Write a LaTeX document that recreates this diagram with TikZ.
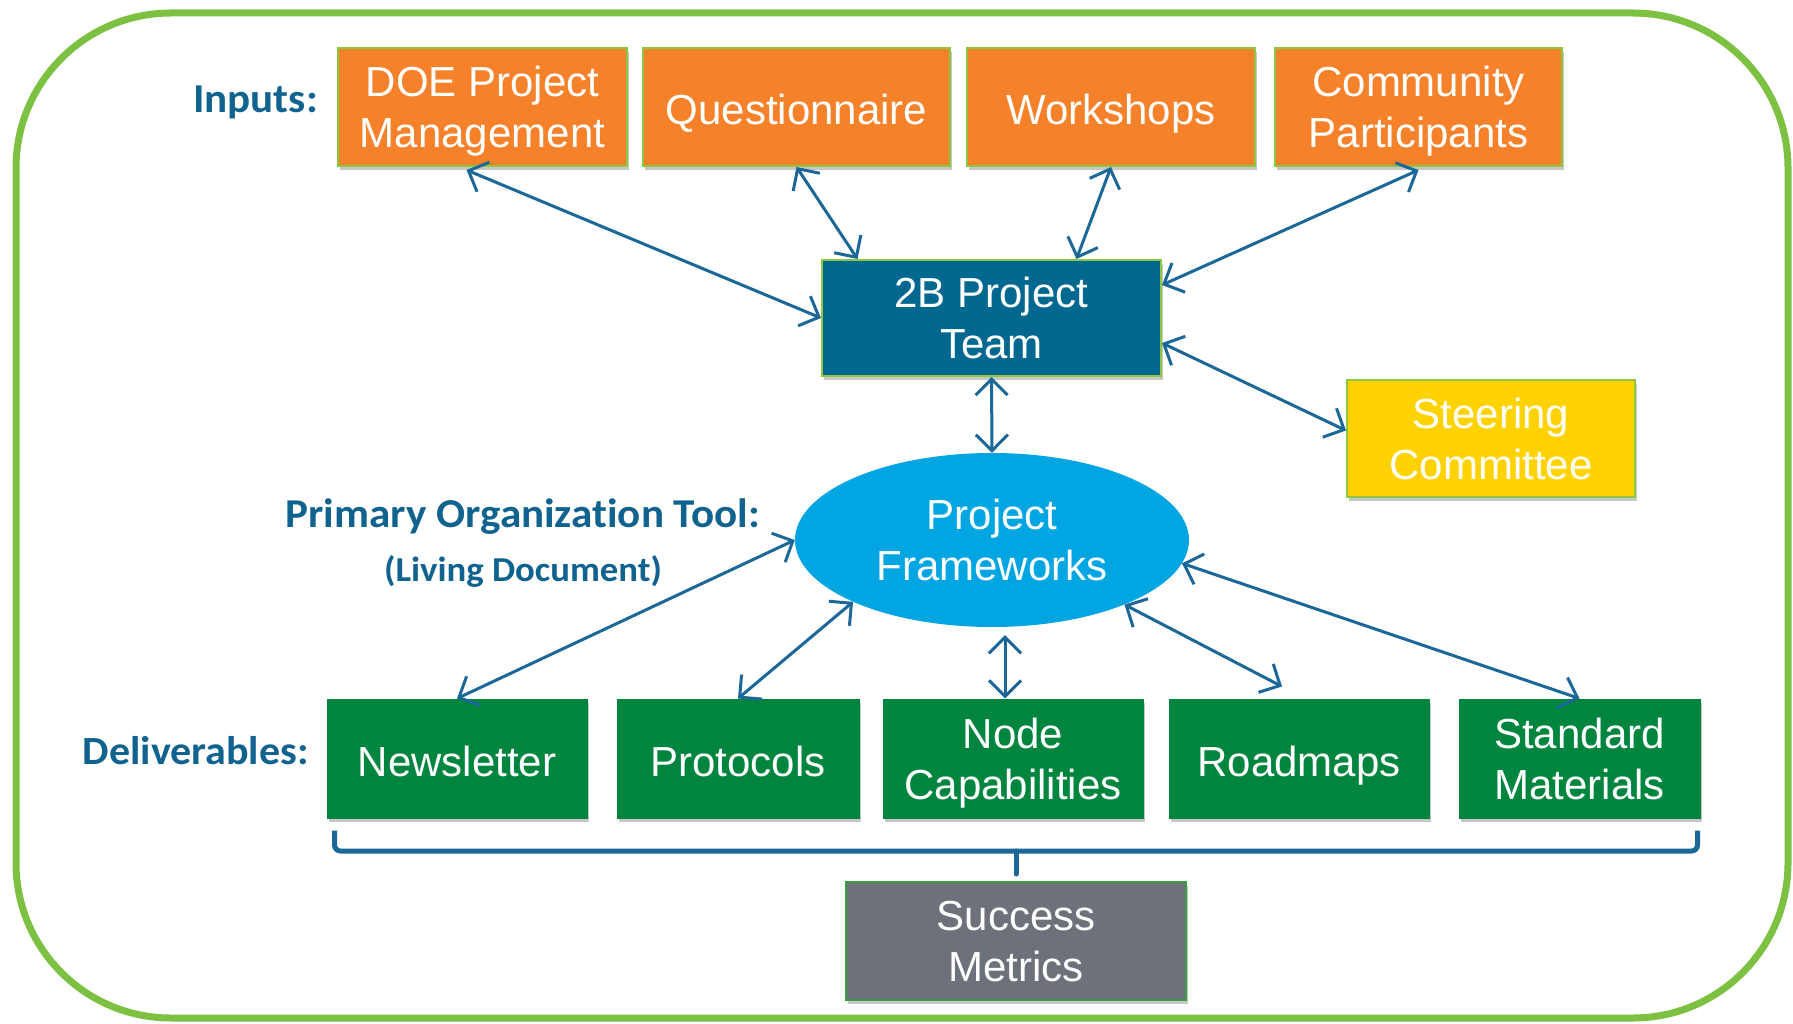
\documentclass[tikz,border=0pt]{standalone}
\usepackage{fontspec}
\setmainfont{Liberation Sans}
\newfontfamily\labfont{Carlito}[Ligatures=NoCommon, FakeStretch=1.05]
\usetikzlibrary{arrows.meta,shapes.geometric,shadows,calc}
\definecolor{outerg}{HTML}{7DC142}
\definecolor{edgeg}{HTML}{8DC63F}
\definecolor{orangec}{HTML}{F5822A}
\definecolor{teamc}{HTML}{02688F}
\definecolor{yellowc}{HTML}{FFD200}
\definecolor{ellc}{HTML}{00A5E2}
\definecolor{greenc}{HTML}{00853F}
\definecolor{grayc}{HTML}{6C717A}
\definecolor{succedge}{HTML}{3A9A45}
\definecolor{arrowc}{HTML}{1A6798}
\definecolor{labc}{HTML}{10628F}
\tikzset{
  boxtext/.style={align=center, text=white, text depth=0pt,
    font=\fontsize{42}{51}\selectfont,
    execute at begin node={\rule{0pt}{36pt}}},
  boxbase/.style={rectangle, inner sep=0pt, boxtext,
    drop shadow={shadow xshift=1.5pt, shadow yshift=-4pt, opacity=0.22, fill=black}},
  obox/.style={boxbase, fill=orangec, draw=edgeg, line width=2pt, minimum height=118pt},
  gbox/.style={boxbase, fill=greenc, draw=greenc, line width=1pt, minimum height=119pt},
  biarrow/.style={draw=arrowc, line width=3pt,
    {Straight Barb[length=16pt,width=32pt]}-{Straight Barb[length=16pt,width=32pt]}},
  lab/.style={text=labc, font=\labfont\bfseries\fontsize{41}{48}\selectfont, inner sep=0pt},
  brace/.style={draw=arrowc, line width=5pt, rounded corners=6pt}
}
\begin{document}
\begin{tikzpicture}[x=1pt,y=-1pt]
\useasboundingbox (0,0) rectangle (1793,1024);
\fill[white] (0,0) rectangle (1793,1024);
% outer frame
\draw[outerg, line width=7pt, rounded corners=155pt] (16,13) rectangle (1788,1018);

% inputs
\node[obox, minimum width=289pt] (doe) at (482.5,107) {DOE Project\\Management};
\node[obox, minimum width=307pt] (quest) at (796.5,107) {Questionnaire};
\node[obox, minimum width=288pt] (work) at (1111,107) {Workshops};
\node[obox, minimum width=287pt] (comm) at (1418.5,107) {Community\\Participants};

% team
\node[boxbase, fill=teamc, draw=edgeg, line width=2pt, minimum width=339pt, minimum height=116pt] (team) at (991.5,318) {2B Project\\Team};
% steering
\node[boxbase, fill=yellowc, draw=edgeg, line width=2pt, minimum width=288pt, minimum height=117pt] (steer) at (1491,438.5) {Steering\\Committee};
% frameworks
\node[ellipse, fill=ellc, inner sep=0pt, minimum width=394pt, minimum height=174pt, boxtext] (ell) at (992,540) {Project\\Frameworks};

% deliverables
\node[gbox, minimum width=260pt] (news) at (457,758.5) {Newsletter};
\node[gbox, minimum width=242pt] (prot) at (738,758.5) {Protocols};
\node[gbox, minimum width=260pt] (ncap) at (1013,758.5) {Node\\Capabilities};
\node[gbox, minimum width=260pt] (road) at (1299,758.5) {Roadmaps};
\node[gbox, minimum width=241pt] (std) at (1579.5,758.5) {Standard\\Materials};

% success
\node[boxbase, fill=grayc, draw=succedge, line width=2pt, minimum width=340pt, minimum height=118pt] (succ) at (1016,941) {Success\\Metrics};

% labels
\node[lab, anchor=base east] (linputs) at (318,113) {Inputs:};
\node[lab, anchor=base] (ltool) at (523,527) {Primary Organization Tool:};
\node[lab, anchor=base, font=\labfont\bfseries\fontsize{35}{40}\selectfont] (lliving) at (523,581) {(Living Document)};
\node[lab, anchor=base east, font=\labfont\bfseries\fontsize{40}{48}\selectfont] (ldeliv) at (309,764) {Deliverables:};

% arrows
\draw[biarrow] ([xshift=-16pt,yshift=-3pt]doe.south) -- (team.west);
\draw[biarrow] (quest.south) -- ([xshift=-134pt]team.north);
\draw[biarrow] (work.south) -- ([xshift=85pt]team.north);
\draw[biarrow] ([yshift=-3pt]comm.south) -- ([yshift=33pt]team.east);
\draw[biarrow] ([yshift=-25pt]team.east) -- ([yshift=8pt]steer.west);
\draw[biarrow] (team.south) -- (ell.north);
\draw[biarrow] (ell.west) -- (news.north);
\draw[biarrow] (ell.204) -- (prot.north);
\draw[biarrow] ([xshift=13pt,yshift=-8pt]ell.south) -- ([xshift=-8pt]ncap.north);
\draw[biarrow] (ell.-26) -- ([xshift=-17pt,yshift=12pt]road.north);
\draw[biarrow] (ell.-7) -- (std.north);

% brace
\coordinate (bmid) at ([yshift=30pt]succ.north);
\draw[brace] ([xshift=8pt,yshift=-12pt]news.south west) |- (bmid) -| ([xshift=-3pt,yshift=-12pt]std.south east);
\draw[draw=arrowc, line width=5pt, line cap=round] (bmid) -- ([yshift=7pt]succ.north);
\end{tikzpicture}
\end{document}
